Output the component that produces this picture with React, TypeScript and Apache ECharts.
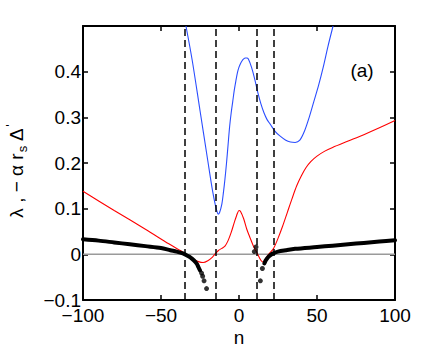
import React, { useEffect, useRef } from "react";
import * as echarts from "echarts";

// ---- data ----
const xTicks = [-100, -50, 0, 50, 100];
const yTicks = [-0.1, 0, 0.1, 0.2, 0.3, 0.4, 0.5];
const dashedN = [-35, -15, 11.5, 22];

const redN = [-100, -80, -60, -45, -38, -35, -32, -29, -26, -23, -20, -17, -15, -13, -11, -9, -7, -5, -3, -1, 0, 1, 3, 5, 7, 9, 10.3, 12, 14, 15.5, 17, 19, 22, 25, 28, 31, 34, 37, 40, 43, 46, 50, 55, 60, 70, 80, 90, 100];
const redV = [0.138, 0.096, 0.055, 0.023, 0.009, 0.003, -0.004, -0.011, -0.016, -0.018, -0.014, -0.006, 0.002, 0.009, 0.013, 0.018, 0.03, 0.048, 0.07, 0.09, 0.096, 0.094, 0.078, 0.055, 0.037, 0.02, 0.011, 0.0, -0.013, -0.017, -0.01, 0.0, 0.012, 0.035, 0.062, 0.092, 0.122, 0.15, 0.172, 0.19, 0.203, 0.215, 0.226, 0.234, 0.248, 0.262, 0.277, 0.293];

const blueN = [-34, -30, -25, -20, -17, -15, -14, -13.4, -12.5, -11, -10, -9, -8, -7, -6, -5, -4, -3, -2, -1, 0, 1, 2, 3, 4, 5, 6, 8, 10, 12, 14, 16, 18, 20, 23, 26, 30, 33, 36, 39, 42, 45, 48, 51, 54, 57, 60.3];
const blueV = [0.5, 0.425, 0.315, 0.205, 0.14, 0.105, 0.093, 0.088, 0.091, 0.11, 0.135, 0.165, 0.2, 0.24, 0.28, 0.31, 0.335, 0.36, 0.38, 0.398, 0.41, 0.418, 0.424, 0.428, 0.43, 0.43, 0.428, 0.41, 0.385, 0.355, 0.33, 0.31, 0.295, 0.285, 0.27, 0.26, 0.25, 0.246, 0.245, 0.25, 0.27, 0.3, 0.335, 0.37, 0.41, 0.455, 0.5];

const blackLeftN = [-100, -90, -80, -70, -60, -50, -44, -40, -36, -33, -31, -29, -27, -26, -25];
const blackLeftV = [0.033, 0.03, 0.026, 0.022, 0.018, 0.014, 0.009, 0.006, 0.002, -0.003, -0.007, -0.013, -0.021, -0.028, -0.035];

const blackRightN = [16.3, 17, 18, 19, 20, 22, 25, 30, 36, 50, 60, 70, 80, 90, 100];
const blackRightV = [-0.02, -0.014, -0.009, -0.005, -0.002, 0.002, 0.006, 0.009, 0.012, 0.016, 0.019, 0.022, 0.025, 0.028, 0.031];

const blackDotsN = [-24, -23.3, -22.4, -20.8, 9.8, 10.9, 15.0, 13.7];
const blackDotsV = [-0.041, -0.048, -0.058, -0.075, 0.006, 0.016, -0.031, -0.058];

const zip = (a: number[], b: number[]) => a.map((v, i) => [v, b[i]]);
const FONT = "'Liberation Sans', Arial, Helvetica, sans-serif";
const minus = (s: string) => s.replace("-", "\u2212");

export default function App() {
  const ref = useRef<HTMLDivElement>(null);
  useEffect(() => {
    if (!ref.current) return;
    const chart = echarts.init(ref.current, null, { renderer: "svg" });
    const axisCommon = {
      type: "value" as const,
      axisLine: { show: true, onZero: false, lineStyle: { color: "#000", width: 2 } },
      axisTick: { show: true, inside: true, length: 5, lineStyle: { color: "#000", width: 1.5 } },
      splitLine: { show: false },
    };
    chart.setOption({
      animation: false,
      backgroundColor: "#fff",
      grid: { left: 83, right: 41, top: 26, bottom: 49, containLabel: false },
      xAxis: [
        {
          ...axisCommon,
          position: "bottom",
          min: xTicks[0],
          max: xTicks[xTicks.length - 1],
          interval: 50,
          axisLabel: {
            show: true,
            margin: 6,
            fontSize: 19,
            fontFamily: FONT,
            color: "#000",
            formatter: (v: number) => minus(String(v)),
          },
        },
        {
          ...axisCommon,
          position: "top",
          min: xTicks[0],
          max: xTicks[xTicks.length - 1],
          interval: 50,
          axisLabel: { show: false },
        },
      ],
      yAxis: [
        {
          ...axisCommon,
          position: "left",
          min: yTicks[0],
          max: yTicks[yTicks.length - 1],
          interval: 0.1,
          axisLabel: {
            show: true,
            margin: 2,
            fontSize: 19,
            fontFamily: FONT,
            color: "#000",
            formatter: (v: number) => {
              const r = Math.round(v * 10) / 10;
              if (Math.abs(r - 0.5) < 1e-9) return "";
              return minus(String(r));
            },
          },
        },
        {
          ...axisCommon,
          position: "right",
          min: yTicks[0],
          max: yTicks[yTicks.length - 1],
          interval: 0.1,
          axisLabel: { show: false },
        },
      ],
      graphic: [
        {
          type: "text",
          x: 16,
          y: 171,
          rotation: Math.PI / 2,
          style: {
            text: "{m|\u03bb , \u2212 \u03b1 r}{sub|s}{m| \u0394}{sup|'}",
            align: "center",
            verticalAlign: "middle",
            fill: "#000",
            rich: {
              m: { fontSize: 19, fontFamily: FONT, fill: "#000" },
              sub: { fontSize: 13, fontFamily: FONT, fill: "#000", padding: [12, 0, 0, 1] },
              sup: { fontSize: 13, fontFamily: FONT, fill: "#000", padding: [0, 0, 12, 1] },
            },
          },
        },
        {
          type: "text",
          x: 362,
          y: 70,
          style: { text: "(a)", fontSize: 19, fontFamily: FONT, fill: "#000", align: "center", verticalAlign: "middle" },
        },
        {
          type: "text",
          x: 239,
          y: 337,
          style: { text: "n", fontSize: 19, fontFamily: FONT, fill: "#000", align: "center", verticalAlign: "middle" },
        },
      ],
      series: [
        {
          type: "line",
          data: [[-100, 0], [100, 0]],
          symbol: "none",
          lineStyle: { color: "#9a9a9a", width: 1.5 },
          silent: true,
          z: 1,
        },
        {
          type: "line",
          data: zip(redN, redV),
          symbol: "none",
          smooth: 0.3,
          clip: true,
          lineStyle: { color: "#ff0000", width: 1.1 },
          z: 2,
        },
        {
          type: "line",
          data: zip(blueN, blueV),
          symbol: "none",
          smooth: 0.3,
          clip: true,
          lineStyle: { color: "#2a4dff", width: 1.1 },
          z: 2,
        },
        {
          type: "line",
          data: zip(blackLeftN, blackLeftV),
          symbol: "none",
          smooth: 0.3,
          lineStyle: { color: "#000", width: 4, cap: "round", join: "round" },
          z: 3,
        },
        {
          type: "line",
          data: zip(blackRightN, blackRightV),
          symbol: "none",
          smooth: 0.3,
          lineStyle: { color: "#000", width: 4, cap: "round", join: "round" },
          z: 3,
        },
        {
          type: "scatter",
          data: zip(blackDotsN, blackDotsV),
          symbol: "circle",
          symbolSize: 5,
          itemStyle: { color: "#000" },
          z: 3,
        },
        {
          type: "line",
          data: [],
          symbol: "none",
          z: 4,
          markLine: {
            silent: true,
            symbol: ["none", "none"],
            label: { show: false },
            lineStyle: { color: "#000", width: 1.5, type: [7, 4] },
            data: dashedN.map((n) => ({ xAxis: n })),
          },
        },
      ],
    });
    return () => chart.dispose();
  }, []);
  return <div ref={ref} style={{ position: "fixed", left: 0, top: 0, width: 436, height: 349 }} />;
}
